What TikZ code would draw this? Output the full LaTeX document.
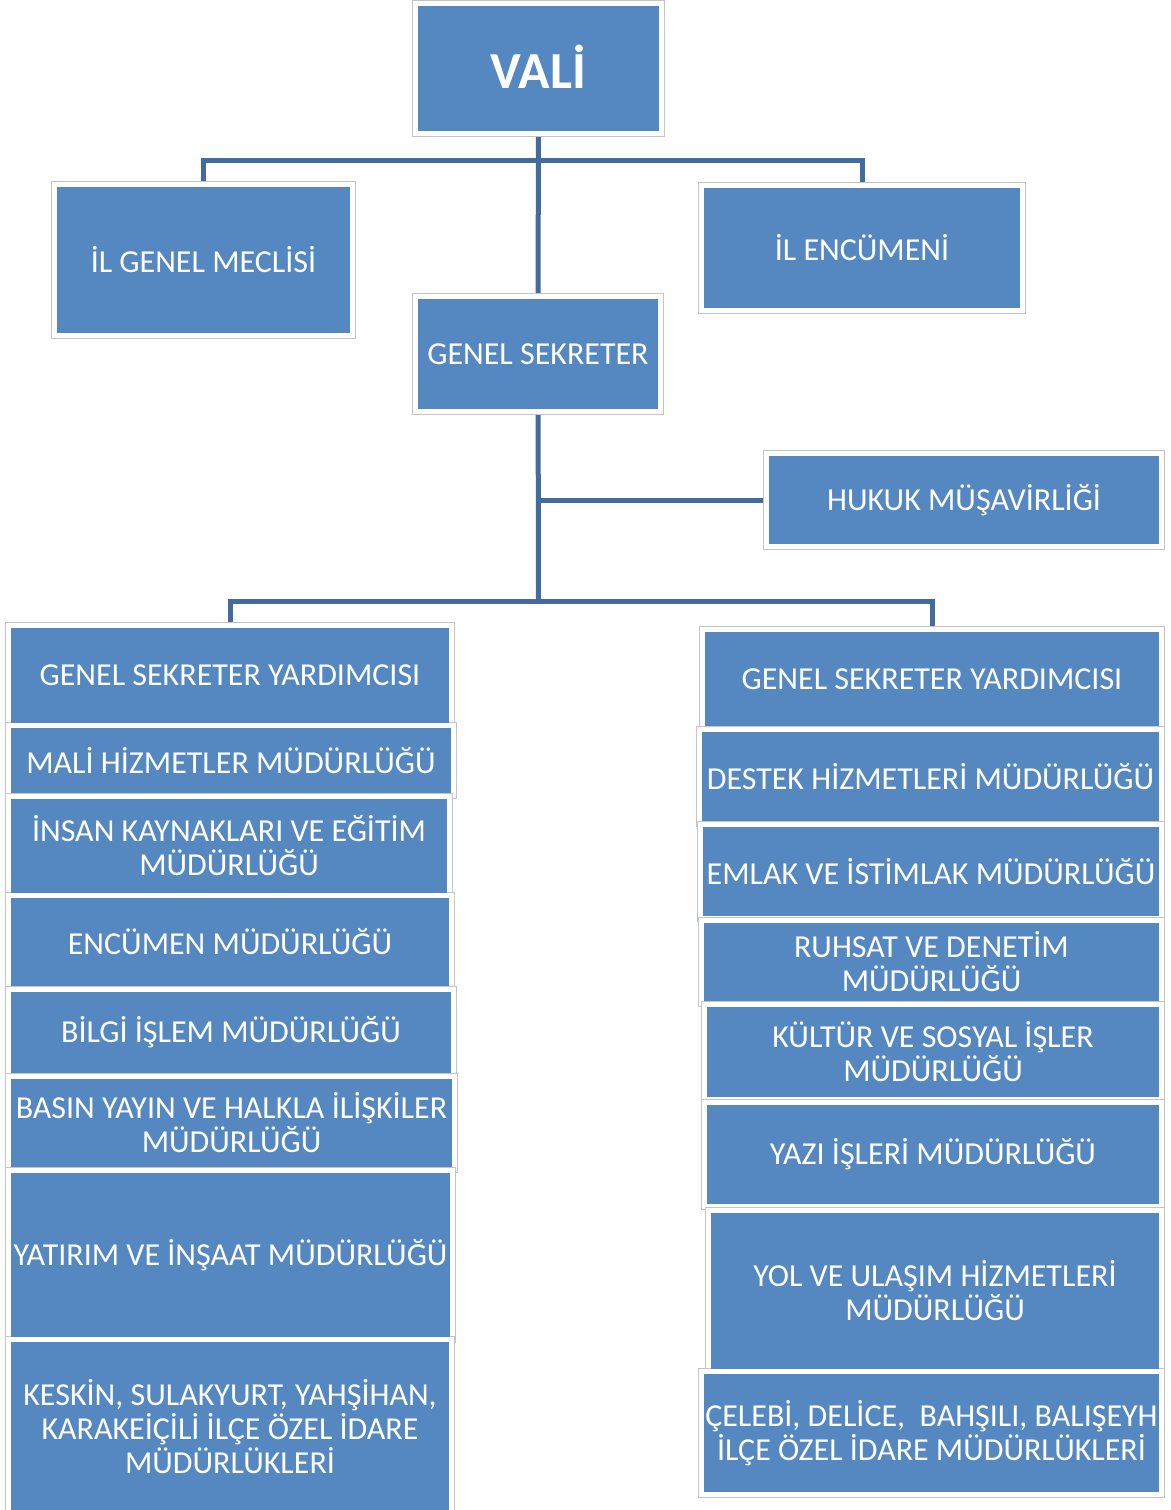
\documentclass[tikz,border=0pt]{standalone}
\usepackage{fontspec}
\setmainfont{Carlito}
\usetikzlibrary{backgrounds}
\definecolor{boxblue}{HTML}{5588C1}
\definecolor{linkblue}{HTML}{436C9E}
\definecolor{framegray}{HTML}{C4C4C4}
\tikzset{
  orgbox/.style={rectangle, fill=boxblue, text=white, align=center, inner sep=0pt,
    font=\fontsize{32}{34}\selectfont},
  link/.style={draw=linkblue, line width=5pt},
  framebox/.style={draw=framegray, line width=1pt, fill=white},
}
\newcommand\orgnode[6]{\node[orgbox, minimum width={#4-#2}, minimum height={#5-#3}] (#1) at ({(#2+#4)/2},{(#3+#5)/2}) {#6};}
\begin{document}
\begin{tikzpicture}[x=1pt,y=-1pt]
\useasboundingbox (0,0) rectangle (1170,1510);
\orgnode{vali}{418}{6}{659}{131}{\fontsize{52}{56}\selectfont\bfseries\raisebox{4pt}{VALİ}}
\orgnode{ilgm}{57}{187}{350}{333}{İL GENEL MECLİSİ}
\orgnode{ilenc}{704}{188}{1020}{308}{İL ENCÜMENİ}
\orgnode{gs}{418}{299}{658}{409}{GENEL SEKRETER}
\orgnode{hukuk}{769}{456}{1159}{544}{HUKUK MÜŞAVİRLİĞİ}
% left column
\orgnode{l1}{11}{628}{449}{723}{GENEL SEKRETER YARDIMCISI}
\orgnode{l2}{11}{728}{451}{793}{MALİ HİZMETLER MÜDÜRLÜĞÜ}
\orgnode{l3}{11}{799}{447}{893}{İNSAN KAYNAKLARI VE EĞİTİM\\MÜDÜRLÜĞÜ}
\orgnode{l4}{11}{898}{449}{986}{ENCÜMEN MÜDÜRLÜĞÜ}
\orgnode{l5}{11}{992}{451}{1073}{BİLGİ İŞLEM MÜDÜRLÜĞÜ}
\orgnode{l6}{11}{1079}{452}{1167}{BASIN YAYIN VE HALKLA İLİŞKİLER\\MÜDÜRLÜĞÜ}
\orgnode{l7}{11}{1173}{450}{1337}{YATIRIM VE İNŞAAT MÜDÜRLÜĞÜ}
\orgnode{l8}{11}{1342}{449}{1512}{KESKİN, SULAKYURT, YAHŞİHAN,\\KARAKEİÇİLİ İLÇE ÖZEL İDARE\\MÜDÜRLÜKLERİ}
% right column
\orgnode{r1}{705}{632}{1159}{726}{GENEL SEKRETER YARDIMCISI}
\orgnode{r2}{702}{732}{1159}{821}{DESTEK HİZMETLERİ MÜDÜRLÜĞÜ}
\orgnode{r3}{703}{827}{1159}{916}{EMLAK VE İSTİMLAK MÜDÜRLÜĞÜ}
\orgnode{r4}{704}{923}{1159}{1001}{RUHSAT VE DENETİM\\MÜDÜRLÜĞÜ}
\orgnode{r5}{707}{1007}{1159}{1097}{KÜLTÜR VE SOSYAL İŞLER\\MÜDÜRLÜĞÜ}
\orgnode{r6}{707}{1105}{1159}{1204}{YAZI İŞLERİ MÜDÜRLÜĞÜ}
\orgnode{r7}{711}{1213}{1159}{1369}{YOL VE ULAŞIM HİZMETLERİ\\MÜDÜRLÜĞÜ}
\orgnode{r8}{704}{1374}{1159}{1492}{ÇELEBİ, DELİCE,\ \ BAHŞILI, BALIŞEYH\\İLÇE ÖZEL İDARE MÜDÜRLÜKLERİ}
\begin{pgfonlayer}{background}
  \fill[white] (0,0) rectangle (1170,1510);
  \coordinate (j1) at (538.5,160);
  \coordinate (j2) at (538.5,500);
  \coordinate (j3) at (538.5,601);
  \draw[link] (vali) -- (gs);
  \draw[link] (ilgm) |- (j1) -| (ilenc);
  \draw[link] (gs) -- (j3);
  \draw[link] (j2) -- (hukuk);
  \draw[link] (l1) |- (j3) -| (r1);
  \foreach \n in {vali,ilgm,ilenc,gs,hukuk,l1,l2,l3,l4,l5,l6,l7,l8,r1,r2,r3,r4,r5,r6,r7,r8}
    \draw[framebox] ([shift={(-5.5pt,-5.5pt)}]\n.south west) rectangle ([shift={(5.5pt,5.5pt)}]\n.north east);
\end{pgfonlayer}
\end{tikzpicture}
\end{document}
